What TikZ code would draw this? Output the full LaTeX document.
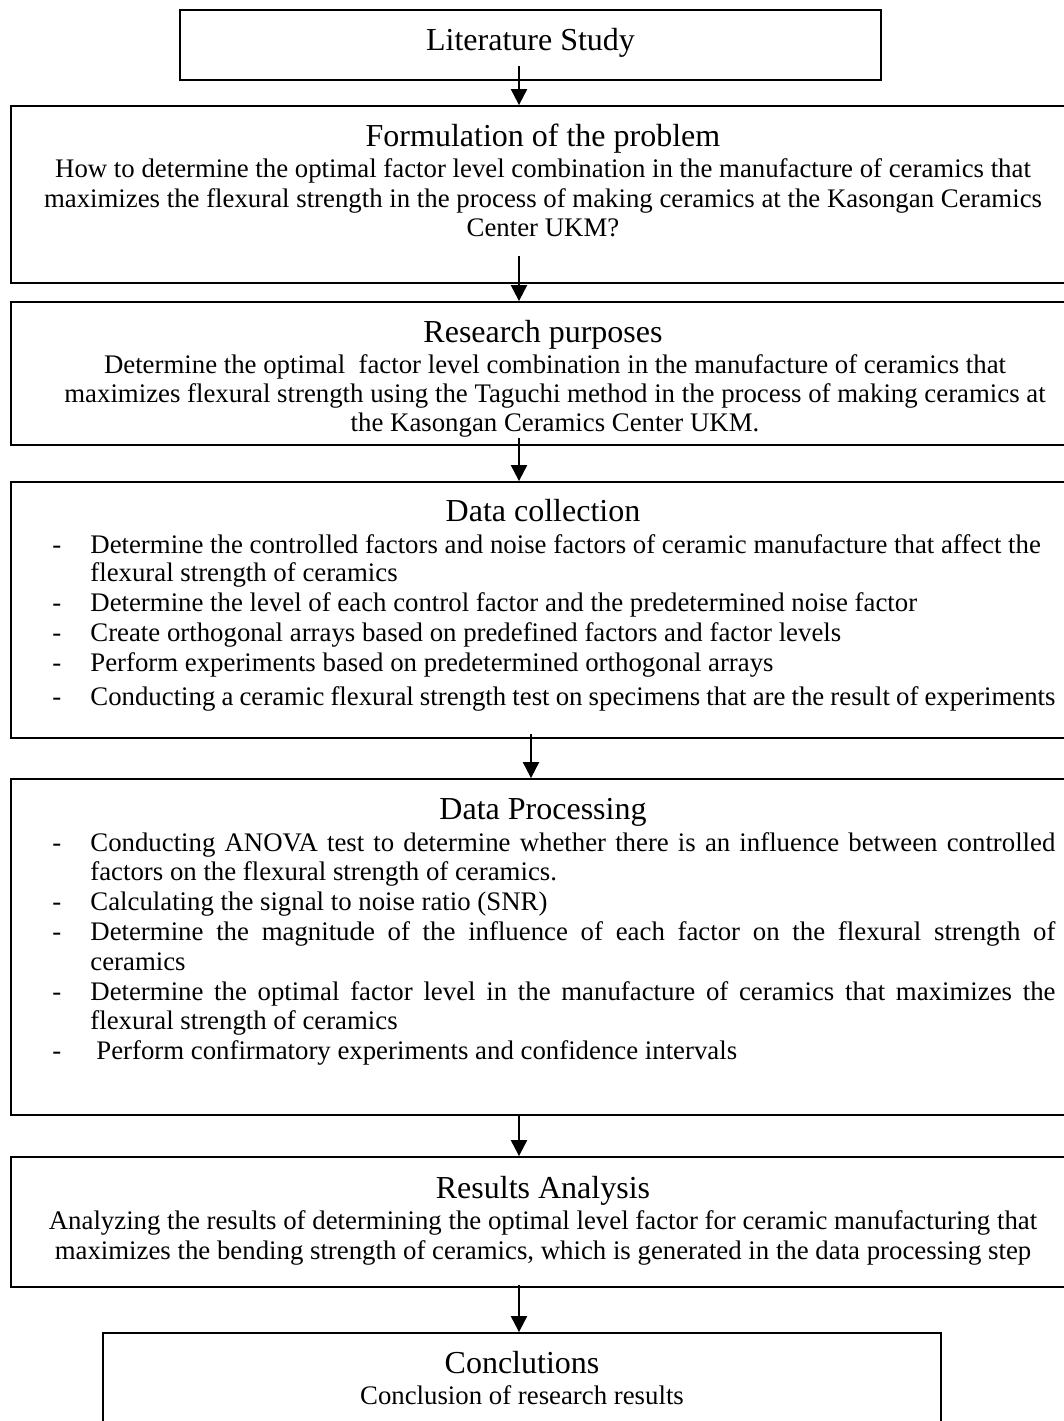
\documentclass[tikz,border=0pt]{standalone}
\usepackage{fontspec}
\setmainfont{Liberation Serif}
\usetikzlibrary{arrows.meta}
\begin{document}
\begin{tikzpicture}[x=0.5pt,y=-0.5pt,
  box/.style={draw,line width=0.9pt,inner sep=0pt},
  ttl/.style={anchor=base,inner sep=0pt,font=\fontsize{16}{18}\selectfont},
  txt/.style={anchor=base,inner sep=0pt,font=\fontsize{13.4}{15}\selectfont},
  lft/.style={anchor=base west,inner sep=0pt,font=\fontsize{13.4}{15}\selectfont},
  flow/.style={line width=1pt,-{Triangle[width=8pt,length=8pt]}}]
\useasboundingbox (0,0) rectangle (1064,1421);
\clip (0,0) rectangle (1064,1421);
% boxes
\node[box,minimum width=350.5pt,minimum height=35pt] (lit) at (530.5,45) {};
\node[box,minimum width=532pt,minimum height=88.5pt] (form) at (543,194.5) {};
\node[box,minimum width=532pt,minimum height=71.5pt] (purp) at (543,373.5) {};
\node[box,minimum width=532pt,minimum height=128pt] (coll) at (543,610) {};
\node[box,minimum width=532pt,minimum height=168pt] (proc) at (543,947) {};
\node[box,minimum width=532pt,minimum height=65pt] (res) at (543,1222) {};
\node[box,minimum width=419pt,minimum height=53.5pt] (conc) at (522,1386.5) {};
% texts
\node[ttl] (litT) at (530.5,50) {Literature Study};
\node[ttl] (formT) at (543,146) {Formulation of the problem};
\node[txt] (form1) at (543,177) {How to determine the optimal factor level combination in the manufacture of ceramics that};
\node[txt] (form2) at (543,207) {maximizes the flexural strength in the process of making ceramics at the Kasongan Ceramics};
\node[txt] (form3) at (543,236) {Center UKM?};
\node[ttl] (purpT) at (543,342) {Research purposes};
\node[txt] (purp1) at (555,373) {Determine the optimal\ \ factor level combination in the manufacture of ceramics that};
\node[txt] (purp2) at (555,402) {maximizes flexural strength using the Taguchi method in the process of making ceramics at};
\node[txt] (purp3) at (555,431) {the Kasongan Ceramics Center UKM.};
\node[ttl] (collT) at (543,521) {Data collection};
\node[lft] (cd1) at (52,553) {-};
\node[lft] (c1a) at (90,553) {Determine the controlled factors and noise factors of ceramic manufacture that affect the};
\node[lft] (c1b) at (90,581) {flexural strength of ceramics};
\node[lft] (cd2) at (52,611) {-};
\node[lft] (c2) at (90,611) {Determine the level of each control factor and the predetermined noise factor};
\node[lft] (cd3) at (52,641) {-};
\node[lft] (c3) at (90,641) {Create orthogonal arrays based on predefined factors and factor levels};
\node[lft] (cd4) at (52,671) {-};
\node[lft] (c4) at (90,671) {Perform experiments based on predetermined orthogonal arrays};
\node[lft] (cd5) at (52,705) {-};
\node[lft] (c5) at (90,705) {\makebox[482.5pt][s]{Conducting a ceramic flexural strength test on specimens that are the result of experiments}};
\node[ttl] (procT) at (543,819) {Data Processing};
\node[lft] (pd1) at (52,851) {-};
\node[lft] (p1a) at (90,851) {\makebox[482.5pt][s]{Conducting ANOVA test to determine whether there is an influence between controlled}};
\node[lft] (p1b) at (90,880) {factors on the flexural strength of ceramics.};
\node[lft] (pd2) at (52,910) {-};
\node[lft] (p2) at (90,910) {Calculating the signal to noise ratio (SNR)};
\node[lft] (pd3) at (52,940) {-};
\node[lft] (p3a) at (90,940) {\makebox[482.5pt][s]{Determine the magnitude of the influence of each factor on the flexural strength of}};
\node[lft] (p3b) at (90,970) {ceramics};
\node[lft] (pd4) at (52,1000) {-};
\node[lft] (p4a) at (90,1000) {\makebox[482.5pt][s]{Determine the optimal factor level in the manufacture of ceramics that maximizes the}};
\node[lft] (p4b) at (90,1029) {flexural strength of ceramics};
\node[lft] (pd5) at (52,1059) {-};
\node[lft] (p5) at (96,1059) {Perform confirmatory experiments and confidence intervals};
\node[ttl] (resT) at (543,1198) {Results Analysis};
\node[txt] (res1) at (543,1229) {Analyzing the results of determining the optimal level factor for ceramic manufacturing that};
\node[txt] (res2) at (543,1259) {maximizes the bending strength of ceramics, which is generated in the data processing step};
\node[ttl] (concT) at (522,1373) {Conclutions};
\node[txt] (conc1) at (522,1404) {Conclusion of research results};
% arrow starts
\coordinate (s1) at (519,66);
\coordinate (s2) at (519,256);
\coordinate (s3) at (519,438);
\coordinate (s4) at (531,734);
\coordinate (s5) at (519,1116);
\coordinate (s6) at (519,1285);
\draw[flow] (s1) -- (s1 |- form.north);
\draw[flow] (s2) -- (s2 |- purp.north);
\draw[flow] (s3) -- (s3 |- coll.north);
\draw[flow] (s4) -- (s4 |- proc.north);
\draw[flow] (s5) -- (s5 |- res.north);
\draw[flow] (s6) -- (s6 |- conc.north);
\end{tikzpicture}
\end{document}
